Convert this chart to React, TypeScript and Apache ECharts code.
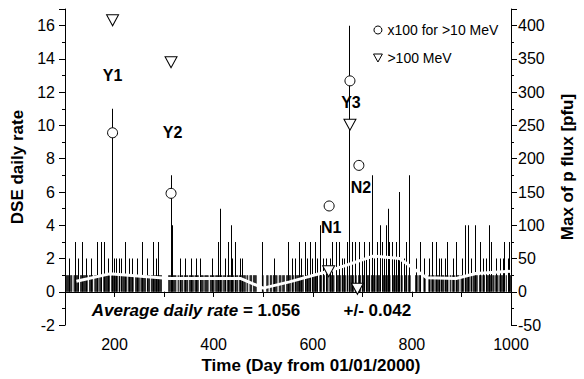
import React, { useEffect, useRef } from 'react';
import * as echarts from 'echarts';

// ---- data ----
const firstDay = 102;
const lastDay = 1000;
const baseRate = 1; // dense band: most days show one DSE
const spikeDays = [110, 121, 127, 135, 143, 153, 165, 173, 180, 188, 196, 200, 204, 210, 215, 223, 230, 237, 246, 257, 267, 278, 284, 289, 314, 317, 334, 344, 355, 365, 373, 397, 410, 413, 423, 429, 435, 438, 445, 455, 459, 499, 523, 551, 560, 566, 573, 578, 586, 590, 595, 600, 605, 610, 616, 622, 628, 635, 640, 647, 654, 660, 665, 670, 675, 681, 687, 695, 700, 704, 708, 714, 720, 725, 731, 736, 741, 745, 748, 752, 755, 761, 765, 768, 772, 775, 780, 785, 789, 796, 810, 818, 825, 835, 842, 849, 855, 860, 868, 872, 884, 890, 902, 909, 914, 920, 929, 939, 944, 950, 956, 961, 971, 978, 984, 987, 994, 997];
const spikeRates = [2, 3, 2, 3, 2, 2, 3, 3, 3, 2, 11, 2, 2, 2, 2, 3, 2, 2, 2, 3, 2, 3, 2, 3, 7, 4, 2, 2, 2, 2, 2, 2, 3, 5, 2, 3, 4, 2, 3, 2, 2, 3, 2, 3, 2, 2, 3, 2, 3, 2, 3, 2, 3, 2, 4, 2, 2, 2, 3, 3, 3, 2, 2, 3, 16, 3, 3, 3, 2, 3, 2, 3, 7, 2, 3, 4, 3, 2, 4, 5, 3, 3, 2, 3, 2, 6, 2, 2, 3, 7, 2, 3, 2, 2, 3, 3, 2, 2, 2, 3, 2, 3, 2, 4, 4, 2, 4, 3, 2, 2, 4, 3, 2, 2, 2, 3, 2, 3];
// runs of days with no DSE (white streaks in the band): [first, last]
const zeroRunStarts = [115, 128, 146, 157, 168, 175, 191, 207, 212, 226, 239, 251, 264, 272, 296, 325, 330, 339, 349, 360, 370, 380, 390, 402, 418, 424, 441, 450, 465, 470, 478, 487, 501, 511, 518, 529, 537, 544, 556, 563, 582, 597, 611, 619, 625, 632, 644, 657, 668, 684, 689, 698, 706, 716, 727, 737, 757, 777, 782, 791, 798, 812, 819, 828, 838, 846, 858, 866, 874, 880, 887, 896, 906, 917, 920, 933, 941, 948, 960, 967, 975, 987, 992];
const zeroRunEnds = [117, 130, 148, 159, 169, 177, 193, 208, 214, 227, 241, 252, 266, 273, 308, 327, 331, 340, 350, 361, 372, 381, 392, 403, 419, 426, 442, 451, 466, 472, 479, 497, 506, 513, 519, 531, 538, 546, 557, 564, 584, 598, 613, 620, 627, 633, 646, 658, 672, 685, 691, 699, 707, 717, 728, 740, 761, 778, 784, 792, 806, 813, 823, 833, 839, 847, 860, 867, 876, 881, 888, 898, 907, 918, 922, 935, 942, 949, 962, 968, 976, 989, 993];

const meanDays = [123, 190, 310, 455, 500, 553, 633, 722, 775, 830, 889, 929, 1000];
const meanRates = [0.64, 1.08, 0.8, 0.8, 0.22, 0.6, 1.25, 2.15, 2.0, 0.84, 0.8, 1.1, 1.24];

const flux10Days = [196, 314, 675, 633, 693];
const flux10 = [239, 148, 317, 129, 190];
const flux100Days = [196, 314, 675, 632, 690];
const flux100 = [408, 345, 251, 31, 4.5];

const eventLabels = ['Y1', 'Y2', 'Y3', 'N1', 'N2'];
const eventLabelDays = [196, 317, 677, 637, 697];
const eventLabelRates = [13.0, 9.6, 11.4, 3.85, 6.3];

const FONT = "'Liberation Sans', Arial, sans-serif";

export default function App() {
  const ref = useRef<HTMLDivElement>(null);
  useEffect(() => {
    document.body.style.margin = '0';
    if (!ref.current) return;
    const chart = echarts.init(ref.current, undefined, { renderer: 'svg' });

    const spikeMap = new Map<number, number>();
    spikeDays.forEach((d, i) => spikeMap.set(d, spikeRates[i]));
    const zeroSet = new Set<number>();
    zeroRunStarts.forEach((s, i) => {
      for (let d = s; d <= zeroRunEnds[i]; d++) zeroSet.add(d);
    });
    const daily: number[][] = [];
    for (let d = firstDay; d <= lastDay; d++) {
      const v = spikeMap.has(d) ? (spikeMap.get(d) as number) : zeroSet.has(d) ? 0 : baseRate;
      if (v > 0) daily.push([d, v]);
    }

    const axisBlack = { lineStyle: { color: '#000', width: 1 } };
    const tickLbl = { color: '#000', fontSize: 16, fontFamily: FONT };
    const titleStyle = { color: '#000', fontSize: 17, fontWeight: 'bold', fontFamily: FONT };
    const markerStyle = { color: '#ffffff', opacity: 1, borderColor: '#000', borderWidth: 1 };

    chart.setOption({
      animation: false,
      textStyle: { fontFamily: FONT },
      grid: { left: 65, right: 72, top: 9, bottom: 53, containLabel: false },
      legend: {
        orient: 'vertical',
        left: 368,
        top: 18,
        itemWidth: 9,
        itemHeight: 8,
        itemGap: 14,
        data: [
          { name: 'x100 for >10 MeV', icon: 'circle' },
          { name: '>100 MeV', icon: 'path://M0,0 L10,0 L5,9 Z' },
        ],
        itemStyle: { color: '#fff', borderColor: '#000', borderWidth: 1, opacity: 1 },
        textStyle: { color: '#000', fontSize: 14, fontFamily: FONT },
      },
      xAxis: [
        {
          type: 'value', position: 'bottom', min: 100, max: 1000, interval: 100,
          axisLine: axisBlack,
          axisTick: { inside: false, length: 5, lineStyle: { color: '#000' } },
          axisLabel: { ...tickLbl, margin: 11, formatter: (v: number) => (v % 200 === 0 ? String(v) : '') },
          splitLine: { show: false },
          name: 'Time (Day from 01/01/2000)',
          nameLocation: 'middle',
          nameGap: 31,
          nameTextStyle: { ...titleStyle, padding: [0, 0, 0, 46] },
        },
        {
          type: 'value', position: 'top', min: 100, max: 1000, interval: 100,
          axisLine: axisBlack,
          axisTick: { inside: true, length: 5, lineStyle: { color: '#000' } },
          axisLabel: { show: false },
          splitLine: { show: false },
        },
      ],
      yAxis: [
        {
          type: 'value', position: 'left', min: -2, max: 17, interval: 2,
          axisLine: { show: true, ...axisBlack },
          axisTick: { show: true, length: 6, lineStyle: { color: '#000' } },
          axisLabel: { ...tickLbl, margin: 10, formatter: (v: number) => (v === 17 ? '' : String(v)) },
          splitLine: { show: false },
          name: 'DSE daily rate',
          nameLocation: 'middle',
          nameGap: 36,
          nameRotate: 90,
          nameTextStyle: titleStyle,
        },
        {
          type: 'value', position: 'right', min: -50, max: 425, interval: 50,
          axisLine: { show: true, ...axisBlack },
          axisTick: { show: true, length: 6, lineStyle: { color: '#000' } },
          axisLabel: { ...tickLbl, margin: 7, formatter: (v: number) => (v === 425 ? '' : String(v)) },
          splitLine: { show: false },
          name: 'Max of p flux [pfu]',
          nameLocation: 'middle',
          nameGap: 48,
          nameRotate: 90,
          nameTextStyle: titleStyle,
        },
        {
          type: 'value', position: 'left', min: -2, max: 17, interval: 1,
          axisLine: { show: false },
          axisTick: { show: true, length: 3, lineStyle: { color: '#000' } },
          axisLabel: { show: false },
          splitLine: { show: false },
        },
        {
          type: 'value', position: 'right', min: -50, max: 425, interval: 25,
          axisLine: { show: false },
          axisTick: { show: true, length: 3, lineStyle: { color: '#000' } },
          axisLabel: { show: false },
          splitLine: { show: false },
        },
      ],
      series: [
        {
          type: 'custom',
          name: 'DSE',
          xAxisIndex: 0,
          yAxisIndex: 0,
          data: daily,
          encode: { x: 0, y: 1 },
          renderItem: (params: any, api: any) => {
            const v = api.value(1);
            const base = api.coord([api.value(0), 0]);
            const top = api.coord([api.value(0), v]);
            const dayW = api.size([1, 0])[0];
            const w = v >= 2 ? 1 : dayW * 1.25;
            const x = v >= 2 ? Math.floor(base[0]) : base[0] - w / 2;
            return {
              type: 'rect',
              shape: { x, y: top[1], width: w, height: base[1] - top[1] },
              style: { fill: '#000' },
            };
          },
          z: 1,
        },
        {
          type: 'line',
          name: 'mean',
          xAxisIndex: 0,
          yAxisIndex: 0,
          data: meanDays.map((d, i) => [d, meanRates[i]]),
          symbol: 'none',
          lineStyle: { color: '#fff', width: 3 },
          z: 2,
        },
        {
          type: 'scatter',
          name: 'events',
          xAxisIndex: 0,
          yAxisIndex: 0,
          data: eventLabels.map((n, i) => ({ name: n, value: [eventLabelDays[i], eventLabelRates[i]] })),
          symbolSize: 1,
          itemStyle: { color: 'rgba(0,0,0,0)', opacity: 1 },
          label: {
            show: true, position: 'inside', formatter: '{b}', opacity: 1,
            color: '#000', fontSize: 16, fontWeight: 'bold', fontFamily: FONT, textBorderWidth: 0,
          },
          z: 0,
        },
        {
          type: 'scatter',
          name: 'x100 for >10 MeV',
          xAxisIndex: 0,
          yAxisIndex: 1,
          data: flux10Days.map((d, i) => [d, flux10[i]]),
          symbol: 'circle',
          symbolSize: 10,
          itemStyle: markerStyle,
          z: 10,
          zlevel: 1,
        },
        {
          type: 'scatter',
          name: '>100 MeV',
          xAxisIndex: 0,
          yAxisIndex: 1,
          data: flux100Days.map((d, i) => [d, flux100[i]]),
          symbol: 'triangle',
          symbolRotate: 180,
          symbolSize: [12, 11],
          itemStyle: markerStyle,
          z: 10,
          zlevel: 1,
        },
        {
          type: 'scatter',
          name: 'average',
          xAxisIndex: 0,
          yAxisIndex: 0,
          data: [
            { name: 'avg', value: [153, -1.15] },
            { name: 'err', value: [661, -1.15] },
          ],
          symbolSize: 1,
          itemStyle: { color: 'rgba(0,0,0,0)', opacity: 1 },
          label: {
            show: true, position: 'right', distance: 0, opacity: 1,
            formatter: (p: any) => (p.name === 'avg' ? '{a|Average daily rate}{b| = 1.056}' : '{b|+/- 0.042}'),
            rich: {
              a: { color: '#000', fontSize: 17, fontWeight: 'bold', fontStyle: 'italic', fontFamily: FONT },
              b: { color: '#000', fontSize: 17, fontWeight: 'bold', fontFamily: FONT },
            },
          },
          z: 6,
        },
      ],
    });
    return () => chart.dispose();
  }, []);
  return <div ref={ref} style={{ width: 584, height: 379 }} />;
}
